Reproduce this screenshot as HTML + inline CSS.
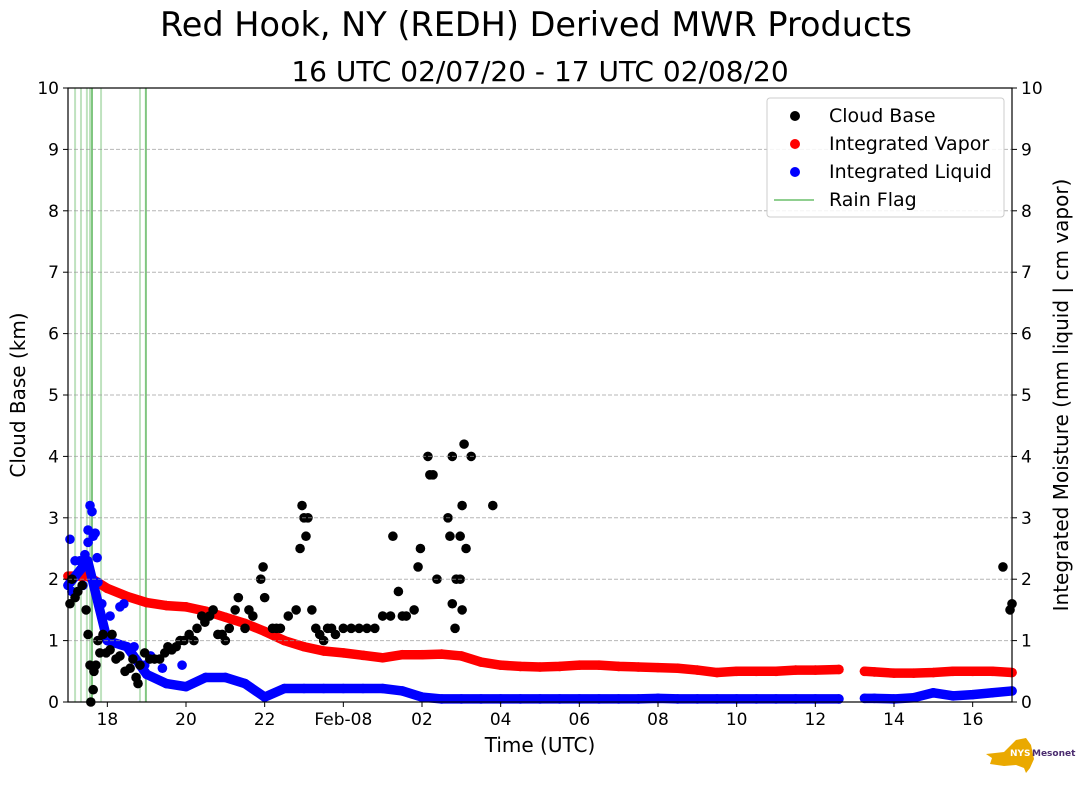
<!DOCTYPE html>
<html><head><meta charset="utf-8">
<style>
body{margin:0;background:#fff;width:1089px;height:804px;overflow:hidden}
svg text{font-family:"DejaVu Sans","Liberation Sans",sans-serif;fill:#000}
</style></head>
<body>
<svg id="chart" width="1089" height="804" viewBox="0 0 1089 804" xmlns="http://www.w3.org/2000/svg">
<text x="536" y="36" font-size="33.5" text-anchor="middle">Red Hook, NY (REDH) Derived MWR Products</text>
<text x="540" y="81" font-size="28" text-anchor="middle">16 UTC 02/07/20 - 17 UTC 02/08/20</text>
<g id="rain"></g>
<g id="marks"></g>
<g id="grid"></g>
<g id="axes"></g>
<text x="540" y="752" font-size="20" text-anchor="middle">Time (UTC)</text>
<text transform="translate(25,395) rotate(-90)" font-size="20" text-anchor="middle">Cloud Base (km)</text>
<text transform="translate(1068,395) rotate(-90)" font-size="20" text-anchor="middle">Integrated Moisture (mm liquid | cm vapor)</text>
<g id="legend">
<rect x="767" y="98" width="237" height="119" rx="3" fill="#fff" fill-opacity="0.85" stroke="#ccc"/>
<circle cx="795" cy="116" r="5" fill="#000"/><text x="829" y="122" font-size="19">Cloud Base</text>
<circle cx="795" cy="144" r="5" fill="#f00"/><text x="829" y="150" font-size="19">Integrated Vapor</text>
<circle cx="795" cy="172" r="5" fill="#00f"/><text x="829" y="178" font-size="19">Integrated Liquid</text>
<line x1="774" y1="200" x2="814" y2="200" stroke="#6cbf6c" stroke-width="1.5"/><text x="829" y="206" font-size="19">Rain Flag</text>
</g>
<g>
<polygon points="986,754 1004,752 1010,746 1016,740 1026,738 1031,745 1034,759 1030,768 1026,773 1024,768 1016,765 1004,766 990,764 992,758" fill="#eaa900"/>
<text x="1010" y="756" font-size="9" font-weight="bold" style="fill:#fff">NYS</text>
<text x="1032" y="756" font-size="9" font-weight="bold" style="fill:#4b2c6f">Mesonet</text>
</g>
</svg>
<script>
const X0=68,X1=1012,Y0=702,Y1=88;
const xs=h=>X0+(h/24)*(X1-X0);
const ys=v=>Y0-(v/10)*(Y0-Y1);
const NS="http://www.w3.org/2000/svg";
const xTickHours=[1,3,5,7,9,11,13,15,17,19,21,23];
const xTickLabels=["18","20","22","Feb-08","02","04","06","08","10","12","14","16"];
const yTicks=[0,1,2,3,4,5,6,7,8,9,10];
const rainHours=[0.18,0.33,0.48,0.56,0.61,0.84,1.83,1.98];
const seriesHours=[0,0.5,1,1.5,2,2.5,3,3.5,4,4.5,5,5.5,6,6.5,7,7.5,8,8.5,9,9.5,10,10.5,11,11.5,12,12.5,13,13.5,14,14.5,15,15.5,16,16.5,17,17.5,18,18.5,19,19.6,null,20.25,20.5,21,21.5,22,22.5,23,23.5,24];
const vapor=[2.05,2.05,1.85,1.72,1.62,1.57,1.55,1.48,1.38,1.28,1.15,1.0,0.9,0.83,0.8,0.76,0.72,0.77,0.77,0.78,0.75,0.65,0.6,0.58,0.57,0.58,0.6,0.6,0.58,0.57,0.56,0.55,0.52,0.48,0.5,0.5,0.5,0.52,0.52,0.53,null,0.5,0.49,0.47,0.47,0.48,0.5,0.5,0.5,0.48];
const liquid=[1.9,2.3,1.0,0.9,0.45,0.3,0.25,0.4,0.4,0.3,0.08,0.22,0.22,0.22,0.22,0.22,0.22,0.18,0.08,0.05,0.05,0.05,0.05,0.05,0.05,0.05,0.05,0.05,0.05,0.05,0.06,0.05,0.05,0.05,0.05,0.05,0.05,0.05,0.05,0.05,null,0.06,0.06,0.05,0.07,0.15,0.1,0.12,0.15,0.18];
const liqExtraH=[0.05,0.1,0.18,0.3,0.38,0.43,0.51,0.51,0.56,0.61,0.64,0.69,0.74,0.76,0.86,0.97,1.07,1.32,1.42,1.68,1.95,2.1,2.4,2.9];
const liqExtraV=[2.65,1.8,2.3,2.3,1.9,2.4,2.8,2.6,3.2,3.1,2.7,2.75,2.35,1.95,1.6,1.1,1.4,1.55,1.6,0.9,0.6,0.75,0.55,0.6];
const cbH=[0.05,0.1,0.18,0.25,0.36,0.46,0.51,0.56,0.58,0.64,0.66,0.71,0.76,0.81,0.89,0.97,1.07,1.12,1.22,1.32,1.45,1.58,1.65,1.73,1.78,1.83,1.95,2.08,2.2,2.33,2.46,2.54,2.64,2.75,2.85,2.95,3.08,3.2,3.28,3.4,3.48,3.6,3.69,3.81,3.92,4.0,4.1,4.25,4.33,4.5,4.6,4.7,4.9,4.96,5.0,5.2,5.3,5.6,5.4,5.8,5.9,5.95,6.0,6.05,6.1,6.2,6.3,6.4,6.5,6.6,6.7,6.8,7.0,7.2,7.4,7.6,7.8,8.0,8.2,8.26,8.4,8.5,8.6,8.8,8.9,8.96,9.15,9.2,9.28,9.38,9.66,9.71,9.77,9.77,9.84,9.87,9.97,9.97,10.02,10.02,10.07,10.12,10.25,10.8,23.77,23.95,24.0];
const cbV=[1.6,2.0,1.7,1.8,1.9,1.5,1.1,0.6,0.0,0.2,0.5,0.6,1.0,0.8,1.1,0.8,0.85,1.1,0.7,0.75,0.5,0.55,0.7,0.4,0.3,0.6,0.8,0.7,0.7,0.7,0.8,0.9,0.85,0.9,1.0,1.0,1.1,1.0,1.2,1.4,1.3,1.4,1.5,1.1,1.1,1.0,1.2,1.5,1.7,1.2,1.5,1.4,2.0,2.2,1.7,1.2,1.2,1.4,1.2,1.5,2.5,3.2,3.0,2.7,3.0,1.5,1.2,1.1,1.0,1.2,1.2,1.1,1.2,1.2,1.2,1.2,1.2,1.4,1.4,2.7,1.8,1.4,1.4,1.5,2.2,2.5,4.0,3.7,3.7,2.0,3.0,2.7,4.0,1.6,1.2,2.0,2.0,2.7,3.2,1.5,4.2,2.5,4.0,3.2,2.2,1.5,1.6];
function el(tag,attrs,parent){const e=document.createElementNS(NS,tag);for(const k in attrs)e.setAttribute(k,attrs[k]);parent.appendChild(e);return e;}
const rain=document.getElementById('rain'),grid=document.getElementById('grid'),marks=document.getElementById('marks'),axes=document.getElementById('axes');
rainHours.forEach((h,i)=>{const l=el('line',{x1:xs(h),x2:xs(h),y1:Y1,y2:Y0,stroke:'#2ca02c','stroke-width':2,'stroke-opacity':(i===rainHours.length-1||i===4)?0.6:0.3},rain);

});
function series(arr,color,name){let seg=[];const segs=[];arr.forEach((v,i)=>{const h=seriesHours[i];if(v===null||h===null){if(seg.length)segs.push(seg);seg=[];}else seg.push([xs(h),ys(v)]);});if(seg.length)segs.push(seg);
segs.forEach(s=>{const p=el('polyline',{points:s.map(q=>q.join(',')).join(' '),fill:'none',stroke:color,'stroke-width':9.5,'stroke-linecap':'round','stroke-linejoin':'round'},marks);


s.forEach(q=>{const c=el('circle',{cx:q[0],cy:q[1],r:4.8,fill:color},marks);

});});}
series(vapor,'#f00','integrated-vapor');
series(liquid,'#00f','integrated-liquid');
liqExtraH.forEach((h,i)=>{const c=el('circle',{cx:xs(h),cy:ys(liqExtraV[i]),r:4.8,fill:'#00f'},marks);

});
cbH.forEach((h,i)=>{const c=el('circle',{cx:xs(h),cy:ys(cbV[i]),r:4.8,fill:'#000'},marks);

});
yTicks.forEach(v=>{if(v>0&&v<10){const g=el('line',{x1:X0,x2:X1,y1:ys(v),y2:ys(v),stroke:'#999','stroke-opacity':0.7,'stroke-dasharray':'4,2','stroke-width':1},grid);

}
el('line',{x1:X0-5,x2:X0,y1:ys(v),y2:ys(v),stroke:'#000'},axes);
el('line',{x1:X1,x2:X1+5,y1:ys(v),y2:ys(v),stroke:'#000'},axes);
const t1=el('text',{x:X0-9,y:ys(v)+6,'font-size':17,'text-anchor':'end'},axes);t1.textContent=v;


const t2=el('text',{x:X1+9,y:ys(v)+6,'font-size':17},axes);t2.textContent=v;

});
xTickHours.forEach((h,i)=>{el('line',{x1:xs(h),x2:xs(h),y1:Y0,y2:Y0+5,stroke:'#000'},axes);
const t=el('text',{x:xs(h),y:Y0+23,'font-size':17,'text-anchor':'middle'},axes);t.textContent=xTickLabels[i];

});
el('rect',{x:X0,y:Y1,width:X1-X0,height:Y0-Y1,fill:'none',stroke:'#000','stroke-width':1.2},axes);
const lg=document.getElementById('legend');lg.parentNode.appendChild(lg);
</script>
</body></html>
